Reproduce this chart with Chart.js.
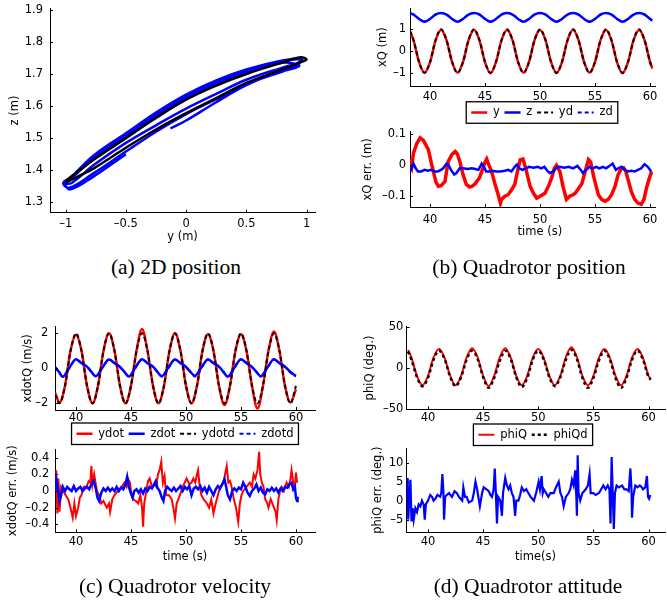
<!DOCTYPE html>
<html>
<head>
<meta charset="utf-8">
<script src="https://cdn.jsdelivr.net/npm/chart.js@4.4.0/dist/chart.umd.min.js"></script>
<style>
  body { margin: 0; background: #fff; width: 667px; height: 603px; position: relative; overflow: hidden; }
  canvas { position: absolute; }
  .cap { position: absolute; font: 21.5px "Liberation Serif", "Times New Roman", serif; line-height: 21.5px;
         white-space: nowrap; transform: translateX(-50%); color: #000; }
</style>
</head>
<body>
<canvas id="pa"></canvas>
<canvas id="pbTop"></canvas>
<canvas id="pbBot"></canvas>
<canvas id="pcTop"></canvas>
<canvas id="pcBot"></canvas>
<canvas id="pdTop"></canvas>
<canvas id="pdBot"></canvas>
<div class="cap" style="left:176px;top:257px">(a) 2D position</div>
<div class="cap" style="left:529px;top:257px">(b) Quadrotor position</div>
<div class="cap" style="left:175px;top:576px">(c) Quadrotor velocity</div>
<div class="cap" style="left:528px;top:576px">(d) Quadrotor attitude</div>
<script>
// ---- data: (a) trajectory in y-z plane ----
const trajY = [-0.13, 0, 0.25, 0.5, 0.8, 0.93, 0.95, 0.8, 0.5, 0.25, 0, -0.25, -0.5, -0.77, -0.93, -1.0,
  -0.95, -0.77, -0.5, -0.25, 0, 0.25, 0.5, 0.8, 0.93, 0.96, 0.8, 0.5, 0.25, 0, -0.25, -0.5, -0.77, -0.95, -1.02,
  -0.97, -0.77, -0.5, -0.25, 0, 0.25, 0.5, 0.8, 0.94, 0.8, 0.5, 0.25, 0, -0.25, -0.5, -0.77, -0.95, -1.0,
  -0.96, -0.77, -0.5];
const trajZ = [1.53, 1.555, 1.612, 1.665, 1.712, 1.73, 1.745, 1.74, 1.71, 1.675, 1.632, 1.575, 1.51, 1.44, 1.385, 1.36,
  1.36, 1.415, 1.485, 1.54, 1.592, 1.638, 1.682, 1.72, 1.735, 1.748, 1.742, 1.714, 1.68, 1.636, 1.58, 1.515, 1.445, 1.38, 1.36,
  1.345, 1.39, 1.458, 1.52, 1.575, 1.622, 1.668, 1.708, 1.725, 1.735, 1.705, 1.668, 1.625, 1.57, 1.505, 1.435, 1.375, 1.355,
  1.34, 1.38, 1.45];
const refYa = [-1.0, -0.9, -0.77, -0.5, -0.25, 0, 0.25, 0.5, 0.81, 0.95, 1.0, 0.95, 0.81, 0.5, 0.25, 0, -0.25, -0.5, -0.77, -0.9, -0.98, -1.0];
const refZa = [1.362, 1.38, 1.405, 1.47, 1.527, 1.578, 1.625, 1.672, 1.716, 1.737, 1.745, 1.752, 1.737, 1.70, 1.664, 1.62, 1.563, 1.50, 1.432, 1.395, 1.372, 1.362];
const aXTicks = [-1, -0.5, 0, 0.5, 1];
const aYTicks = [1.3, 1.4, 1.5, 1.6, 1.7, 1.8, 1.9];

// ---- data: (b) position ----
const tPos = [38.2, 38.5, 39, 39.5, 40, 40.5, 41, 41.5, 42, 42.5, 43, 43.5, 44, 44.5, 45, 45.5, 46, 46.5, 47, 47.5,
  48, 48.5, 49, 49.5, 50, 50.5, 51, 51.5, 52, 52.5, 53, 53.5, 54, 54.5, 55, 55.5, 56, 56.5, 57, 57.5, 58, 58.5, 59, 59.5, 60, 60.2];
const posY = [0.88, 0.5, -0.5, -1.0, -0.52, 0.48, 0.98, 0.5, -0.5, -1.0, -0.5, 0.5, 0.98, 0.48, -0.52, -1.02, -0.5, 0.5,
  0.97, 0.5, -0.5, -1.0, -0.5, 0.5, 0.97, 0.5, -0.5, -1.01, -0.5, 0.5, 0.98, 0.5, -0.5, -1.0, -0.5, 0.5,
  0.97, 0.48, -0.52, -1.02, -0.5, 0.5, 0.97, 0.5, -0.5, -0.78];
const posZ = [1.73, 1.68, 1.48, 1.35, 1.48, 1.68, 1.75, 1.68, 1.48, 1.35, 1.48, 1.68, 1.75, 1.68, 1.48, 1.35, 1.48, 1.68,
  1.75, 1.68, 1.48, 1.35, 1.48, 1.68, 1.75, 1.68, 1.48, 1.35, 1.48, 1.68, 1.75, 1.68, 1.48, 1.35, 1.48, 1.68,
  1.75, 1.68, 1.48, 1.35, 1.48, 1.68, 1.75, 1.68, 1.48, 1.40];
const posYd = [0.91, 0.5, -0.5, -1.0, -0.5, 0.5, 1.0, 0.5, -0.5, -1.0, -0.5, 0.5, 1.0, 0.5, -0.5, -1.0, -0.5, 0.5,
  1.0, 0.5, -0.5, -1.0, -0.5, 0.5, 1.0, 0.5, -0.5, -1.0, -0.5, 0.5, 1.0, 0.5, -0.5, -1.0, -0.5, 0.5,
  1.0, 0.5, -0.5, -1.0, -0.5, 0.5, 1.0, 0.5, -0.5, -0.81];
const posZd = [1.74, 1.69, 1.49, 1.36, 1.49, 1.69, 1.75, 1.69, 1.49, 1.36, 1.49, 1.69, 1.75, 1.69, 1.49, 1.36, 1.49, 1.69,
  1.75, 1.69, 1.49, 1.36, 1.49, 1.69, 1.75, 1.69, 1.49, 1.36, 1.49, 1.69, 1.75, 1.69, 1.49, 1.36, 1.49, 1.69,
  1.75, 1.69, 1.49, 1.36, 1.49, 1.69, 1.75, 1.69, 1.49, 1.40];
const tErrPy = [38.2, 38.35, 38.5, 38.8, 39.1, 39.4, 39.85, 40.1, 40.3, 40.55, 40.76, 41.0, 41.36, 41.55, 41.67, 42.0, 42.3, 42.5,
  42.7, 43.0, 43.3, 43.6, 43.8, 44.1, 44.5, 44.8, 45.0, 45.15, 45.3, 45.6, 45.9, 46.2, 46.4, 46.5, 46.8, 47.1, 47.4, 47.7,
  47.95, 48.2, 48.45, 48.7, 49.1, 49.4, 49.7, 50.0, 50.45, 50.8, 51.06, 51.3, 51.5, 51.8, 52.1, 52.4, 52.7, 53.0, 53.2,
  53.5, 53.8, 54.1, 54.4, 54.6, 54.9, 55.3, 55.6, 55.9, 56.2, 56.5, 56.8, 57.1, 57.4, 57.6, 57.8, 58.03, 58.3, 58.6,
  58.9, 59.2, 59.45, 59.7, 59.95, 60.15];
const errPy = [0.02, 0.0, 0.04, 0.07, 0.088, 0.08, 0.05, 0.01, -0.02, -0.055, -0.068, -0.066, -0.052, -0.01, 0.013, 0.035, 0.044, 0.035,
  0.013, -0.03, -0.062, -0.07, -0.068, -0.06, -0.04, -0.01, 0.01, 0.02, 0.005, -0.02, -0.06, -0.095, -0.122, -0.11, -0.1, -0.095, -0.08, -0.062,
  -0.02, 0.018, 0.02, -0.01, -0.068, -0.09, -0.106, -0.1, -0.09, -0.065, -0.04, -0.01, 0.0, -0.02, -0.07, -0.11, -0.1, -0.095, -0.09,
  -0.075, -0.06, -0.02, 0.018, 0.01, -0.04, -0.095, -0.11, -0.116, -0.11, -0.095, -0.07, -0.03, -0.01, -0.008, -0.02, -0.05, -0.085, -0.11,
  -0.122, -0.126, -0.11, -0.07, -0.04, -0.02];
const tErrPz = [38.2, 38.35, 38.5, 38.7, 38.9, 39.2, 39.5, 39.8, 40.1, 40.4, 40.7, 41.0, 41.2, 41.5, 41.7, 41.9, 42.2, 42.4, 42.7,
  43.0, 43.4, 43.8, 44.1, 44.4, 44.7, 44.9, 45.1, 45.4, 45.7, 46.0, 46.4, 46.8, 47.1, 47.4, 47.7, 47.9, 48.1, 48.4, 48.7,
  49.0, 49.4, 49.8, 50.1, 50.4, 50.7, 50.9, 51.2, 51.5, 51.8, 52.2, 52.6, 53.0, 53.4, 53.7, 53.9, 54.2, 54.5, 54.8, 55.1,
  55.4, 55.7, 56.0, 56.4, 56.6, 56.9, 57.1, 57.4, 57.7, 58.0, 58.3, 58.6, 58.9, 59.2, 59.5, 59.8, 60.1];
const errPz = [-0.02, -0.01, 0.005, -0.01, -0.02, -0.02, -0.015, -0.018, -0.015, -0.02, -0.02, -0.015, -0.01, 0.005, 0.0, -0.015, -0.03, -0.025, -0.01,
  -0.01, -0.012, -0.01, -0.012, -0.015, 0.005, -0.005, -0.02, -0.02, -0.018, -0.02, -0.02, -0.018, -0.015, -0.02, -0.005, 0.002, -0.01, -0.015, -0.01,
  -0.005, -0.008, -0.005, -0.01, -0.005, -0.02, -0.025, -0.02, -0.008, -0.005, -0.008, -0.005, -0.01, -0.002, -0.015, -0.025, -0.015, -0.005, -0.01, -0.005,
  -0.01, -0.005, -0.01, 0.0, 0.005, -0.015, -0.01, -0.005, -0.015, -0.02, -0.018, -0.02, -0.015, -0.01, 0.003, -0.005, -0.02];
const timeTicks = [40, 45, 50, 55, 60];
const bYTicks = [-1, 0, 1];
const bErrTicks = [-0.1, 0, 0.1];

// ---- data: (c) velocity ----
const tVel = [38.1, 38.5, 39, 39.5, 40, 40.5, 41, 41.5, 42, 42.5, 43, 43.5, 44, 44.5, 45, 45.5, 46, 46.5, 47, 47.5,
  48, 48.5, 49, 49.5, 50, 50.5, 51, 51.5, 52, 52.5, 53, 53.5, 54, 54.5, 55, 55.5, 56, 56.5, 57, 57.5, 58, 58.5, 59, 59.5, 60];
const velY = [-1.4, -1.95, -1.0, 1.0, 1.92, 1.0, -1.0, -2.0, -1.0, 1.0, 2.0, 1.0, -1.0, -2.0, -1.0, 1.0, 2.25, 1.0,
  -1.0, -2.0, -1.0, 1.0, 2.0, 1.0, -1.0, -2.0, -1.0, 1.0, 1.95, 1.0, -1.0, -2.1, -1.0, 1.0, 1.95, 1.0,
  -1.0, -2.3, -1.0, 1.0, 2.1, 1.0, -1.0, -1.95, -1.2];
const velYd = [-1.5, -2.0, -1.0, 1.0, 2.0, 1.0, -1.0, -2.0, -1.0, 1.0, 2.0, 1.0, -1.0, -2.0, -1.0, 1.0, 2.0, 1.0,
  -1.0, -2.0, -1.0, 1.0, 2.0, 1.0, -1.0, -2.0, -1.0, 1.0, 2.0, 1.0, -1.0, -2.0, -1.0, 1.0, 2.0, 1.0,
  -1.0, -2.0, -1.0, 1.0, 2.0, 1.0, -1.0, -2.0, -1.0];
const tVelZ = [38.1, 38.45, 38.8, 39.4, 40.0, 40.5, 41.0, 41.4, 41.8, 42.4, 43.0, 43.5, 44.0, 44.4, 44.8, 45.4, 46.0, 46.5,
  47.0, 47.4, 47.8, 48.4, 49.0, 49.5, 50.0, 50.4, 50.8, 51.4, 52.0, 52.5, 53.0, 53.4, 53.8, 54.4, 55.0, 55.5,
  56.0, 56.4, 56.8, 57.4, 58.0, 58.5, 59.0, 59.4, 59.8, 60.0];
const velZ = [0.08, -0.2, -0.48, 0.05, 0.52, 0.3, 0.1, -0.2, -0.45, 0.05, 0.5, 0.3, 0.08, -0.2, -0.47, 0.05, 0.52, 0.3,
  0.1, -0.2, -0.45, 0.05, 0.5, 0.3, 0.08, -0.2, -0.42, 0.05, 0.5, 0.3, 0.1, -0.2, -0.47, 0.05, 0.52, 0.3,
  0.08, -0.2, -0.45, 0.05, 0.52, 0.3, 0.1, -0.15, -0.35, -0.42];
const velZd = [0.05, -0.22, -0.48, 0.02, 0.5, 0.3, 0.08, -0.2, -0.47, 0.02, 0.5, 0.3, 0.08, -0.2, -0.47, 0.02, 0.5, 0.3,
  0.08, -0.2, -0.47, 0.02, 0.5, 0.3, 0.08, -0.2, -0.47, 0.02, 0.5, 0.3, 0.08, -0.2, -0.47, 0.02, 0.5, 0.3,
  0.08, -0.2, -0.47, 0.02, 0.5, 0.3, 0.08, -0.18, -0.4, -0.45];
const tErrVy = [38.1, 38.2, 38.3, 38.4, 38.5, 38.65, 38.85, 39.05, 39.3, 39.5, 39.7, 39.85, 40.0, 40.2, 40.35, 40.5, 40.7, 40.97,
  41.15, 41.3, 41.4, 41.5, 41.65, 41.9, 42.1, 42.3, 42.5, 42.8, 43.0, 43.1, 43.3, 43.5, 43.8, 44.15, 44.4, 44.6, 44.75,
  44.9, 45.05, 45.2, 45.45, 45.65, 45.85, 46.0, 46.1, 46.2, 46.4, 46.55, 46.7, 46.9, 47.1, 47.3, 47.45, 47.6, 47.75,
  47.9, 48.05, 48.2, 48.45, 48.7, 48.85, 49.0, 49.15, 49.45, 49.7, 50.06, 50.3, 50.5, 50.67, 50.85, 51.0, 51.1, 51.25,
  51.4, 51.6, 51.9, 52.1, 52.3, 52.5, 52.7, 52.9, 53.1, 53.4, 53.55, 53.7, 53.85, 54.0, 54.15, 54.35, 54.55, 54.75,
  54.9, 55.05, 55.2, 55.5, 55.8, 56.0, 56.15, 56.3, 56.5, 56.65, 56.75, 56.9, 57.05, 57.2, 57.4, 57.5, 57.7, 57.85,
  58.0, 58.15, 58.25, 58.4, 58.55, 58.7, 58.9, 59.15, 59.35, 59.5, 59.6, 59.75, 59.9, 60.0, 60.1];
const errVy = [0.1, 0.25, -0.27, 0.15, -0.25, 0.05, 0.0, -0.05, -0.1, -0.2, -0.32, -0.15, -0.3, -0.2, -0.08, -0.05, 0.05, 0.05,
  0.12, 0.1, 0.3, 0.08, 0.2, 0.0, -0.05, -0.15, -0.12, -0.2, -0.15, -0.25, -0.1, -0.05, 0.0, 0.05, 0.1, 0.05, 0.14,
  0.1, -0.05, -0.1, -0.12, -0.15, -0.05, -0.2, -0.43, -0.15, 0.0, 0.12, 0.15, 0.05, 0.08, 0.05, 0.2, 0.25, 0.35,
  0.1, 0.18, -0.05, -0.05, -0.1, -0.2, -0.33, -0.15, -0.05, 0.05, 0.15, 0.08, 0.1, 0.15, 0.1, 0.2, 0.25, 0.05,
  -0.05, -0.1, -0.15, -0.2, -0.1, -0.27, -0.15, -0.05, 0.05, 0.1, 0.2, 0.3, 0.1, 0.12, 0.05, -0.1, -0.2, -0.37,
  -0.15, -0.05, 0.0, 0.05, 0.1, 0.05, 0.2, 0.15, 0.25, 0.47, 0.2, 0.1, 0.05, -0.1, -0.15, -0.2, -0.1, -0.15,
  -0.2, -0.25, -0.35, -0.1, 0.0, 0.05, 0.0, 0.1, 0.05, 0.15, 0.25, 0.1, 0.05, 0.22, 0.1];
const tErrVz = [38.1, 38.2, 38.35, 38.5, 38.65, 38.8, 39.0, 39.2, 39.4, 39.6, 39.8, 40.0, 40.2, 40.4, 40.6, 40.8, 41.0, 41.2,
  41.4, 41.6, 41.8, 41.95, 42.1, 42.3, 42.5, 42.7, 42.9, 43.1, 43.3, 43.5, 43.7, 43.9, 44.1, 44.3, 44.5, 44.65, 44.8,
  45.0, 45.15, 45.3, 45.5, 45.7, 45.9, 46.1, 46.3, 46.5, 46.7, 46.9, 47.1, 47.25, 47.4, 47.6, 47.8, 47.95, 48.1, 48.3,
  48.5, 48.7, 48.9, 49.1, 49.3, 49.5, 49.7, 49.9, 50.1, 50.3, 50.5, 50.7, 50.9, 51.1, 51.3, 51.5, 51.7, 51.9, 52.1,
  52.3, 52.5, 52.7, 52.9, 53.1, 53.3, 53.5, 53.65, 53.8, 54.0, 54.2, 54.4, 54.6, 54.8, 55.0, 55.2, 55.4, 55.6, 55.8,
  56.0, 56.2, 56.4, 56.6, 56.8, 57.0, 57.2, 57.4, 57.6, 57.8, 58.0, 58.2, 58.4, 58.6, 58.8, 59.0, 59.2, 59.4, 59.6,
  59.75, 59.9, 60.0, 60.1, 60.15];
const errVz = [0.0, 0.15, 0.05, -0.12, -0.05, 0.05, 0.0, 0.05, 0.02, 0.0, 0.06, 0.0, 0.03, 0.05, 0.0, 0.03, 0.05, 0.02,
  0.08, 0.12, 0.03, -0.08, -0.12, -0.02, 0.03, 0.0, 0.04, 0.0, 0.03, 0.0, 0.05, 0.0, 0.04, 0.02, 0.08, 0.17, 0.05,
  -0.03, -0.08, 0.0, 0.02, -0.02, 0.02, -0.03, 0.03, 0.0, 0.05, 0.03, 0.08, 0.12, 0.04, 0.0, -0.08, -0.12, 0.0, 0.05,
  0.02, 0.0, 0.04, 0.0, 0.03, 0.06, 0.0, 0.05, 0.02, 0.06, -0.05, 0.03, 0.05, 0.02, 0.06, 0.0, 0.04, -0.02, 0.05,
  0.0, -0.05, 0.02, 0.06, 0.03, 0.08, 0.14, 0.05, -0.05, -0.1, 0.0, 0.03, 0.0, 0.04, 0.02, 0.1, 0.05, -0.02, -0.06,
  0.0, 0.03, 0.08, 0.0, 0.04, -0.02, -0.04, 0.02, 0.0, 0.04, 0.0, 0.03, -0.02, 0.03, 0.0, 0.05, 0.04, 0.08, 0.1,
  0.02, 0.05, -0.08, -0.12, -0.07];
const cYTicks = [-2, 0, 2];
const cErrTicks = [-0.4, -0.2, 0, 0.2, 0.4];

// ---- data: (d) attitude ----
const phiQ = [22, 12.5, -9.5, -21, -9.5, 12.5, 23, 12.5, -9, -21, -9.5, 12.5, 24, 13, -9.5, -22, -9.5, 12.5,
  24, 12.5, -9.5, -21, -9.5, 12.5, 23, 12, -9.5, -21, -9.5, 13, 25, 13, -9.5, -21, -9.5, 12.5,
  23, 12, -9.5, -21, -9.5, 12.5, 23, 12, -9.5, -13];
const phiQd = [20, 10, -11, -22, -12, 10, 21, 11, -10, -22, -11, 10, 21, 11, -11, -24, -12, 8,
  21, 11, -11, -23, -12, 10, 21, 10, -11, -22, -11, 10, 22, 11, -12, -24, -12, 9,
  21, 10, -12, -24, -12, 10, 21, 10, -11, -14];
const tErrPhi = [38.1, 38.15, 38.2, 38.3, 38.4, 38.5, 38.6, 38.7, 38.85, 39.0, 39.15, 39.3, 39.45, 39.6, 39.7, 39.8, 40.0, 40.2,
  40.36, 40.5, 40.66, 40.85, 41.1, 41.2, 41.3, 41.4, 41.45, 41.55, 41.7, 41.9, 42.17, 42.4, 42.6, 42.8, 43.1, 43.2,
  43.35, 43.5, 43.7, 44.0, 44.15, 44.3, 44.45, 44.7, 44.9, 45.05, 45.3, 45.5, 45.65, 45.8, 45.95, 46.05, 46.15, 46.25,
  46.35, 46.55, 46.7, 46.8, 47.0, 47.15, 47.3, 47.45, 47.6, 47.75, 47.9, 48.0, 48.2, 48.35, 48.5, 48.7, 48.9, 49.1,
  49.3, 49.45, 49.6, 49.8, 50.03, 50.15, 50.3, 50.4, 50.5, 50.7, 50.9, 51.1, 51.4, 51.6, 51.85, 52.0, 52.15, 52.3,
  52.5, 52.75, 52.9, 53.05, 53.2, 53.35, 53.45, 53.5, 53.57, 53.65, 53.8, 54.0, 54.15, 54.3, 54.5, 54.65, 54.75,
  55.0, 55.2, 55.5, 55.7, 55.9, 56.1, 56.3, 56.45, 56.55, 56.65, 56.75, 56.85, 56.95, 57.1, 57.3, 57.6, 57.8, 58.0,
  58.2, 58.35, 58.45, 58.5, 58.6, 58.8, 59.0, 59.2, 59.4, 59.5, 59.7, 59.85, 59.95, 60.05, 60.15];
const errPhi = [0, 6, -5, 0, 5.5, -5.5, -2, -5, -2, -3, -1, -1.5, 0, -1, -5, -1, 0, 1.5,
  1, 0, 0.5, 1.5, 1, 2, 7, 2, -5, 1, 1.5, 2, 1, 2.5, 2, 1, 0, 3.5,
  1, 1, -0.5, 0, 2, 5, 3, -1.5, 2, 3.5, 3, 2.5, 1.5, 1, 3, 8.5, 2, -6,
  1, 0, -4, 2, 6, 4, 3, 4, 2, 1, -4, 0, 0, 1.5, 3.5, 2.5, 3, 2,
  1, 0.5, 0, 2, 5, 3, 6.5, 2, 3, 2, 1, 2, 2, 3.5, 5, 2, 1, -1.5,
  1, 2, 3, 5.5, 4, 8, 1, -4, 12, 2, 0, 2, 2.5, 3, 4, 7, 2,
  2, 1.5, 2, 3, 4, 3, 4, 3, -6, 11.5, 2, -7.5, 2, 4, 3.5, 4, 3, 3,
  2.5, 8.5, 3, -4.5, 1, 4, 3.5, 4, 3.5, 3, 3.5, 6.5, 1, 0.5, 1.5];
const dYTicks = [-50, 0, 50];
const dErrTicks = [-5, 0, 5, 10];

// ---- style ----
const RED = '#ff0000', BLUE = '#0000ff', BLACK = '#000000';
const FONT = { family: 'DejaVu Sans', size: 11.5 };
Chart.defaults.color = '#000';

function pts(xs, ys) { return xs.map((x, i) => ({ x, y: ys[i] })); }
// matlab prints a short dash as minus
function minus(v) { return String(v).replace('-', '\u2013'); }

function line(label, xs, ys, color, width, dash, order, smooth) {
  return {
    label, data: pts(xs, ys), borderColor: color, backgroundColor: color,
    borderWidth: width, borderDash: dash || [], order, pointRadius: 0, fill: false,
    tension: smooth === 'loop' ? 0.4 : 0,
    cubicInterpolationMode: smooth === true ? 'monotone' : 'default'
  };
}

// matlab style ticks pointing into the axes
const inwardTicks = {
  id: 'inwardTicks',
  afterDraw(chart) {
    const { ctx, chartArea: a, scales: { x, y } } = chart;
    ctx.save();
    ctx.strokeStyle = '#000';
    ctx.lineWidth = 1;
    ctx.beginPath();
    x.ticks.forEach(t => {
      const px = Math.round(x.getPixelForValue(t.value)) + 0.5;
      ctx.moveTo(px, a.bottom); ctx.lineTo(px, a.bottom - 3);
    });
    y.ticks.forEach(t => {
      const py = Math.round(y.getPixelForValue(t.value)) + 0.5;
      ctx.moveTo(a.left, py); ctx.lineTo(a.left + 3, py);
    });
    ctx.stroke();
    ctx.restore();
  }
};

// white boxed legend (like matlab), shifted sideways by dx
const legendFrame = {
  id: 'legendFrame',
  afterLayout(chart, args, opts) {
    const lg = chart.legend;
    if (lg && lg.options.display && opts.dx) { lg.left += opts.dx; lg.right += opts.dx; }
  },
  afterDraw(chart) {
    const lg = chart.legend;
    if (!lg || !lg.options.display || !lg.legendHitBoxes.length) return;
    const hb = lg.legendHitBoxes, last = hb[hb.length - 1];
    const ctx = chart.ctx;
    const x = hb[0].left - 5, y = hb[0].top - 5;
    const w = last.left + last.width - hb[0].left + 10, h = hb[0].height + 10;
    ctx.save();
    ctx.fillStyle = '#fff';
    ctx.fillRect(x, y, w, h);
    ctx.restore();
    lg.draw();
    ctx.save();
    ctx.strokeStyle = '#000';
    ctx.lineWidth = 1.3;
    ctx.strokeRect(x, y, w, h);
    ctx.restore();
  }
};

function legendItems(chart) {
  return chart.data.datasets.map((ds, i) => ({
    text: ds.label, datasetIndex: i, hidden: false, fontColor: '#000',
    strokeStyle: ds.borderColor, fillStyle: ds.borderColor,
    lineWidth: ds.borderWidth, lineDash: ds.borderDash, pointStyle: 'line'
  }));
}

function axis(range, ticks, size, pad, title, titlePad) {
  return {
    type: 'linear', min: range[0], max: range[1],
    afterBuildTicks: s => { s.ticks = ticks.map(v => ({ value: v })); },
    afterFit: s => {
      size(s);
      s.paddingTop = s.paddingBottom = s.paddingLeft = s.paddingRight = 0;
    },
    grid: { display: false, drawTicks: false },
    border: { display: true, color: '#000', width: 1 },
    ticks: { font: FONT, color: '#000', padding: pad, maxRotation: 0, autoSkip: false, callback: v => minus(v) },
    title: { display: !!title, text: title, font: FONT, color: '#000', padding: titlePad }
  };
}

function panel(id, g, datasets, o) {
  const cv = document.getElementById(id);
  cv.width = g.w; cv.height = g.h;
  cv.style.left = g.left + 'px';
  cv.style.top = g.top + 'px';
  return new Chart(cv, {
    type: 'line',
    data: { datasets },
    options: {
      responsive: false, animation: false, devicePixelRatio: 1,
      layout: { padding: g.pad },
      plugins: {
        tooltip: { enabled: false },
        legend: o.legend ? {
          display: true, position: 'bottom',
          labels: { usePointStyle: true, pointStyle: 'line', pointStyleWidth: 16, padding: 4.75,
                    font: FONT, color: '#000', generateLabels: legendItems }
        } : { display: false },
        legendFrame: { dx: g.dx || 0 }
      },
      scales: {
        x: axis(o.xr, o.xt, s => { s.height = g.hx; }, g.xPad, o.xTitle, { top: 0, bottom: 0 }),
        y: axis(o.yr, o.yt, s => { s.width = g.wy; }, g.yPad, o.yTitle, { top: g.yTitlePad, bottom: 0 })
      }
    },
    plugins: [inwardTicks, legendFrame]
  });
}

// ---- panels ----
panel('pa', { left: 0, top: 0, w: 322, h: 248, pad: { left: 0, top: 8.3, right: 7, bottom: 3.7 }, wy: 50, hx: 31.5, xPad: 4.8, yPad: 7, yTitlePad: 8.1 }, [
  line('traj', trajY, trajZ, BLUE, 2.5, null, 2, 'loop'),
  line('ref', refYa, refZa, BLACK, 2.5, null, 1, 'loop')
], { xr: [-1.13, 1.07], yr: [1.267, 1.905], xt: aXTicks, yt: aYTicks, xTitle: 'y (m)', yTitle: 'z (m)' });

panel('pbTop', { left: 370, top: 0, w: 290, h: 130, pad: { left: 0, top: 8.3, right: 5, bottom: 1.75 }, wy: 40, hx: 16, xPad: 3.8, yPad: 4, yTitlePad: 6.4, dx: 29.5 }, [
  line('y', tPos, posY, RED, 2.5, null, 4, true),
  line('z', tPos, posZ, BLUE, 2.5, null, 3, true),
  line('yd', tPos, posYd, BLACK, 2, [4, 3], 2, true),
  line('zd', tPos, posZd, BLUE, 2, [4, 3], 1, true)
], { xr: [38.18, 60.45], yr: [-1.61, 1.97], xt: timeTicks, yt: bYTicks, legend: true, yTitle: 'xQ (m)' });

panel('pbBot', { left: 355, top: 122, w: 305, h: 119, pad: { left: 0, top: 9.7, right: 5, bottom: 1.8 }, wy: 55, hx: 32.2, xPad: 6.1, yPad: 4, yTitlePad: 6.4 }, [
  line('y err', tErrPy, errPy, RED, 3.5, null, 2, false),
  line('z err', tErrPz, errPz, BLUE, 2.5, null, 1, false)
], { xr: [38.18, 60.45], yr: [-0.1345, 0.108], xt: timeTicks, yt: bErrTicks, xTitle: '    time (s)', yTitle: 'xQ err. (m)' });

panel('pcTop', { left: 15, top: 318, w: 307, h: 134, pad: { left: 0, top: 8.7, right: 7, bottom: 2.5 }, wy: 40, hx: 13.25, xPad: 1.5, yPad: 6.7, yTitlePad: 6.4, dx: 20 }, [
  line('ydot', tVel, velY, RED, 2.5, null, 4, true),
  line('zdot', tVelZ, velZ, BLUE, 2.5, null, 3, true),
  line('ydotd', tVel, velYd, BLACK, 2, [4, 3], 2, true),
  line('zdotd', tVelZ, velZd, BLUE, 2, [4, 3], 1, true)
], { xr: [38.09, 61.73], yr: [-2.38, 2.38], xt: timeTicks, yt: cYTicks, legend: true, yTitle: 'xdotQ (m/s)' });

panel('pcBot', { left: 0, top: 440, w: 322, h: 126, pad: { left: 0, top: 9, right: 7, bottom: 2.4 }, wy: 55, hx: 31.3, xPad: 2.5, yPad: 5.7, yTitlePad: 6.4 }, [
  line('ydot err', tErrVy, errVy, RED, 2, null, 2, false),
  line('zdot err', tErrVz, errVz, BLUE, 2.5, null, 1, false)
], { xr: [38.09, 61.73], yr: [-0.496, 0.504], xt: timeTicks, yt: cErrTicks, xTitle: 'time (s)', yTitle: 'xdotQ err. (m/s)' });

panel('pdTop', { left: 357, top: 318, w: 310, h: 134, pad: { left: 0, top: 8.7, right: 2, bottom: 1.5 }, wy: 49.7, hx: 14.95, xPad: 1.8, yPad: 3.4, yTitlePad: 6.1, dx: 22 }, [
  line('phiQ', tPos, phiQ, RED, 2, null, 2, true),
  line('phiQd', tPos, phiQd, BLACK, 2.5, [3, 3], 1, true)
], { xr: [38.07, 61.49], yr: [-50, 50], xt: timeTicks, yt: dYTicks, legend: true, yTitle: 'phiQ (deg.)' });

panel('pdBot', { left: 365, top: 440, w: 302, h: 126, pad: { left: 0, top: 8, right: 2, bottom: 2.4 }, wy: 41, hx: 31.3, xPad: 2.5, yPad: 2.7, yTitlePad: 6.4 }, [
  line('phiQ err', tErrPhi, errPhi, BLUE, 2.2, null, 1, false)
], { xr: [38.0, 61.49], yr: [-8.36, 13.9], xt: timeTicks, yt: dErrTicks, xTitle: 'time(s)', yTitle: 'phiQ err. (deg.)' });
</script>
</body>
</html>
